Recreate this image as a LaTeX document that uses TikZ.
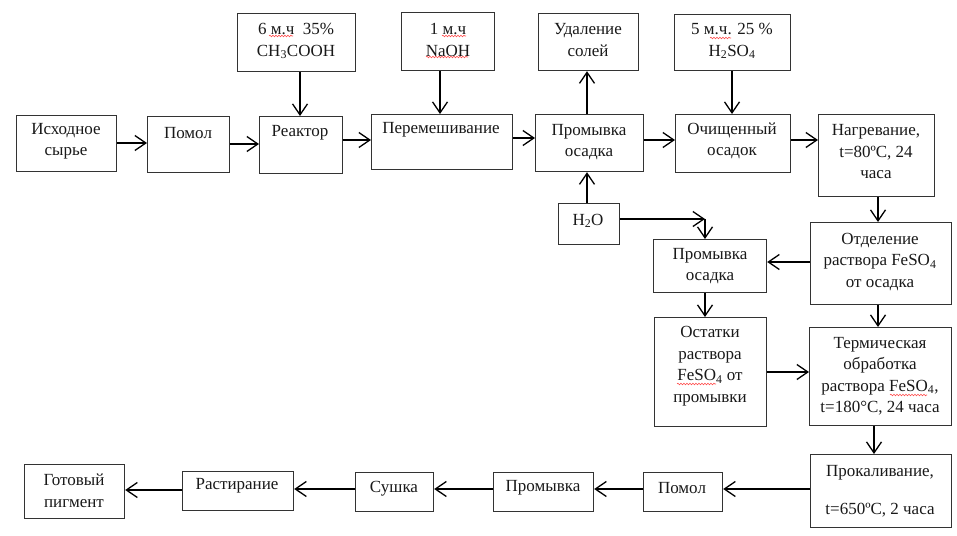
\documentclass[tikz,border=0pt]{standalone}
\usepackage{fontspec}
\setmainfont{Liberation Serif}
\usetikzlibrary{arrows.meta,decorations.pathmorphing}
\begin{document}
\begin{tikzpicture}[x=1pt,y=-1pt,
  bx/.style={draw=black!80, line width=1.2pt, inner sep=0pt, anchor=north west},
  tx/.style={font=\fontsize{17}{21.5}\selectfont, align=center, inner sep=0pt, text=black!90},
  arr/.style={-{Straight Barb[length=11pt,width=15pt,line width=1.3pt]}, line width=1.4pt, draw=black},
  squig/.style={draw=red!70, line width=0.6pt, decorate, decoration={snake, segment length=3pt, amplitude=0.8pt}}]
\useasboundingbox[fill=white] (0,0) rectangle (957,535);
% boxes
\node[bx, minimum width=100pt, minimum height=56pt] (b1) at (16,115) {};
\node[bx, minimum width=82pt, minimum height=56pt] (b2) at (147,116) {};
\node[bx, minimum width=83pt, minimum height=57pt] (b3) at (259,116) {};
\node[bx, minimum width=141pt, minimum height=55pt] (b4) at (371,114) {};
\node[bx, minimum width=108pt, minimum height=57pt] (b5) at (535,114) {};
\node[bx, minimum width=115pt, minimum height=58pt] (b6) at (675,114) {};
\node[bx, minimum width=116pt, minimum height=82pt] (b7) at (818,114) {};
\node[bx, minimum width=118pt, minimum height=58pt] (c1) at (237,13) {};
\node[bx, minimum width=93pt, minimum height=58pt] (c2) at (401,12) {};
\node[bx, minimum width=100pt, minimum height=57pt] (c3) at (538,13) {};
\node[bx, minimum width=116pt, minimum height=56pt] (c4) at (674,14) {};
\node[bx, minimum width=61pt, minimum height=41pt] (w) at (558,203) {};
\node[bx, minimum width=113pt, minimum height=53pt] (d1) at (653,239) {};
\node[bx, minimum width=141pt, minimum height=82pt] (d2) at (810,222) {};
\node[bx, minimum width=112pt, minimum height=109pt] (d3) at (654,317) {};
\node[bx, minimum width=142pt, minimum height=98pt] (d4) at (809,327) {};
\node[bx, minimum width=141pt, minimum height=73pt] (e1) at (810,454) {};
\node[bx, minimum width=79pt, minimum height=39pt] (e2) at (643,472) {};
\node[bx, minimum width=100pt, minimum height=39pt] (e3) at (493,472) {};
\node[bx, minimum width=78pt, minimum height=39pt] (e4) at (355,472) {};
\node[bx, minimum width=111pt, minimum height=39pt] (e5) at (182,471) {};
\node[bx, minimum width=100pt, minimum height=54pt] (e6) at (24,464) {};
% texts
\node[tx] (tb1) at (66,141) {Исходное\\сырье};
\node[tx] (tb2) at (188,133) {Помол};
\node[tx] (tb3) at (300,133) {Реактор};
\node[tx] (tb4) at (441,130) {Перемешивание};
\node[tx] (tb5) at (589,142) {Промывка\\осадка};
\node[tx] (tb6) at (732,141) {Очищенный\\осадок};
\node[tx] (tb7) at (876,152) {Нагревание,\\t=80ºC, 24\\часа};
\node[tx] (tc1) at (296,41) {6 м.ч~~35\%\\CH\textsubscript{3}COOH};
\node[tx] (tc2) at (448,40) {1 м.ч\\NaOH};
\node[tx] (tc3) at (588,40) {Удаление\\солей};
\node[tx] (tc4) at (732,41) {5 м.ч. 25 \%\\H\textsubscript{2}SO\textsubscript{4}};
\node[tx] (tw) at (588,221) {H\textsubscript{2}O};
\node[tx] (td1) at (710,266) {Промывка\\осадка};
\node[tx] (td2) at (880,262) {Отделение\\раствора FeSO\textsubscript{4}\\от осадка};
\node[tx] (td3) at (710,366) {Остатки\\раствора\\FeSO\textsubscript{4} от\\промывки};
\node[tx] (td4) at (880,376) {Термическая\\обработка\\раствора FeSO\textsubscript{4},\\t=180°C, 24 часа};
\node[tx] (te1) at (880,491) {Прокаливание,\\[16pt]t=650ºC, 2 часа};
\node[tx] (te2) at (682,488) {Помол};
\node[tx] (te3) at (543,488) {Промывка};
\node[tx] (te4) at (394,489) {Сушка};
\node[tx] (te5) at (237,486) {Растирание};
\node[tx] (te6) at (74,491) {Готовый\\пигмент};
% spell-check underlines
\draw[squig] (269,36) -- (293,36);
\draw[squig] (442,36) -- (466,36);
\draw[squig] (426,57) -- (468,57);
\draw[squig] (710,38) -- (731,38);
\draw[squig] (677,384) -- (716,384);
\draw[squig] (890,395) -- (927,395);
% arrows
\draw[arr] (b1.east |- 0,143) -- (b2.west |- 0,143);
\draw[arr] (b2.east |- 0,144) -- (b3.west |- 0,144);
\draw[arr] (b3.east |- 0,140) -- (b4.west |- 0,140);
\draw[arr] (b4.east |- 0,138) -- (b5.west |- 0,138);
\draw[arr] (b5.east |- 0,140) -- (b6.west |- 0,140);
\draw[arr] (b6.east |- 0,140) -- (b7.west |- 0,140);
\draw[arr] (c1.south -| 300,0) -- (b3.north -| 300,0);
\draw[arr] (c2.south -| 440,0) -- (b4.north -| 440,0);
\draw[arr] (b5.north -| 587,0) -- (c3.south -| 587,0);
\draw[arr] (c4.south -| 732,0) -- (b6.north -| 732,0);
\draw[arr] (w.north -| 587,0) -- (b5.south -| 587,0);
\coordinate (k) at (705,219);
\draw[arr] (w.east |- k) -- (k);
\draw[arr] (k) -- (d1.north -| k);
\draw[arr] (b7.south -| 878,0) -- (d2.north -| 878,0);
\draw[arr] (d2.west |- 0,262) -- (d1.east |- 0,262);
\draw[arr] (d1.south -| 705,0) -- (d3.north -| 705,0);
\draw[arr] (d2.south -| 878,0) -- (d4.north -| 878,0);
\draw[arr] (d3.east |- 0,372) -- (d4.west |- 0,372);
\draw[arr] (d4.south -| 874,0) -- (e1.north -| 874,0);
\draw[arr] (e1.west |- 0,489) -- (e2.east |- 0,489);
\draw[arr] (e2.west |- 0,489) -- (e3.east |- 0,489);
\draw[arr] (e3.west |- 0,489) -- (e4.east |- 0,489);
\draw[arr, line width=2.4pt] (e4.west |- 0,489) -- (e5.east |- 0,489);
\draw[arr] (e5.west |- 0,490) -- (e6.east |- 0,490);
\end{tikzpicture}
\end{document}
